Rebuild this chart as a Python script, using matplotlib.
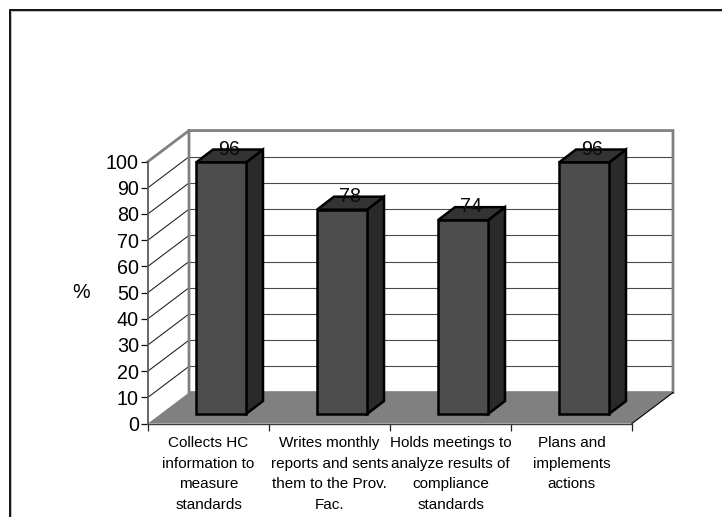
import matplotlib
matplotlib.use("Agg")
import matplotlib.pyplot as plt
from matplotlib.patches import Polygon, Rectangle

plt.rcParams['font.family'] = ['Liberation Sans', 'DejaVu Sans']

categories = [
    "Collects HC\ninformation to\nmeasure\nstandards",
    "Writes monthly\nreports and sents\nthem to the Prov.\nFac.",
    "Holds meetings to\nanalyze results of\ncompliance\nstandards",
    "Plans and\nimplements\nactions",
]
values = [96, 78, 74, 96]
y_ticks = list(range(0, 101, 10))

W, H = 722, 517
fig = plt.figure(figsize=(W / 100, H / 100), dpi=100, facecolor="white")

# outer chart frame with its soft inner edge
fig.add_artist(Rectangle((11 / W, -0.01), 2, 1.01 - 11 / H, transform=fig.transFigure,
                         fill=False, ec="#c4c4c4", lw=0.8))
fig.add_artist(Rectangle((9.7 / W, -0.01), 2, 1.01 - 9.7 / H, transform=fig.transFigure,
                         fill=False, ec="black", lw=1.3))

# front plane of the oblique 3D plot
left, right, top, bottom = 148, 632, 161.5, 423.5
ax = fig.add_axes([left / W, 1 - bottom / H, (right - left) / W, (bottom - top) / H])
ax.set_xlim(0, 4)
ax.set_ylim(0, 100)
ax.patch.set_visible(False)

# depth vector in data units
DX = 41 / 121
DY = 31 / 2.625
BAR_W = 50 / 121
BAR_DX = 17 / 121
BAR_DY = 13 / 2.625

GRAY = "#808080"


def poly(pts, **kw):
    ax.add_patch(Polygon(pts, closed=True, clip_on=False, **kw))


# floor
poly([(0, 0), (4, 0), (4 + DX, DY), (DX, DY)], fc=GRAY, ec="none", zorder=1)
ax.plot([4, 4 + DX], [0, DY], color="black", lw=0.8, clip_on=False, zorder=2)

# gridlines on side and back walls
for t in y_ticks[1:-1]:
    ax.plot([0, DX], [t, t + DY], color="#1a1a1a", lw=0.75, clip_on=False, zorder=1)
    ax.plot([DX, 4 + DX], [t + DY, t + DY], color="#4a4a4a", lw=0.8, clip_on=False, zorder=1)
ax.plot([0, DX, 4 + DX, 4 + DX, DX, DX], [100, 100 + DY, 100 + DY, DY, DY, 100 + DY],
        color=GRAY, lw=2, clip_on=False, zorder=1.5, solid_joinstyle="miter")

# bars
inset_x = 12.5 / 121
inset_y = 9.5 / 2.625
for i, v in enumerate(values):
    x0 = i + 0.5 - BAR_W / 2 + inset_x
    x1 = x0 + BAR_W
    y0 = inset_y
    y1 = inset_y + v
    edge = dict(ec="black", lw=1.8, joinstyle="miter", zorder=3)
    poly([(x1, y0), (x1 + BAR_DX, y0 + BAR_DY), (x1 + BAR_DX, y1 + BAR_DY), (x1, y1)],
         fc="#2a2a2a", **edge)
    poly([(x0, y1), (x1, y1), (x1 + BAR_DX, y1 + BAR_DY), (x0 + BAR_DX, y1 + BAR_DY)],
         fc="#333333", **edge)
    poly([(x0, y0), (x1, y0), (x1, y1), (x0, y1)], fc="#4d4d4d", **edge)
    ax.text(x0 + BAR_W / 2 + BAR_DX / 2 - 0.005, y1 + BAR_DY + 0.1, str(v), ha="center", va="center",
            fontsize=14.25, color="#0a0a0a", zorder=4, clip_on=False)

# axes, ticks and labels
for name in ("top", "right"):
    ax.spines[name].set_visible(False)
ax.spines["left"].set_color("#5a5a5a")
ax.spines["left"].set_linewidth(1.3)
ax.spines["bottom"].set_color("#3c3c3c")
ax.spines["bottom"].set_linewidth(1.0)
ax.spines["left"].set_zorder(2)
ax.spines["bottom"].set_zorder(2)
ax.set_yticks(y_ticks)
ax.tick_params(axis="y", length=5, width=0.9, color="#111111", labelsize=14.25, pad=1.5)
ax.set_xticks(range(5))
ax.set_xticklabels([])
ax.tick_params(axis="x", length=5, width=0.9, color="#222222")
for i, label in enumerate(categories):
    ax.annotate(label, (i + 0.5, 0), xytext=(0, -8.8), textcoords="offset points",
                ha="center", va="top", fontsize=11, linespacing=1.62, annotation_clip=False)
fig.text(81 / W, 1 - 292 / H, "%", ha="center", va="center", fontsize=14.25)

fig.savefig("out.png", dpi=100, facecolor="white")
